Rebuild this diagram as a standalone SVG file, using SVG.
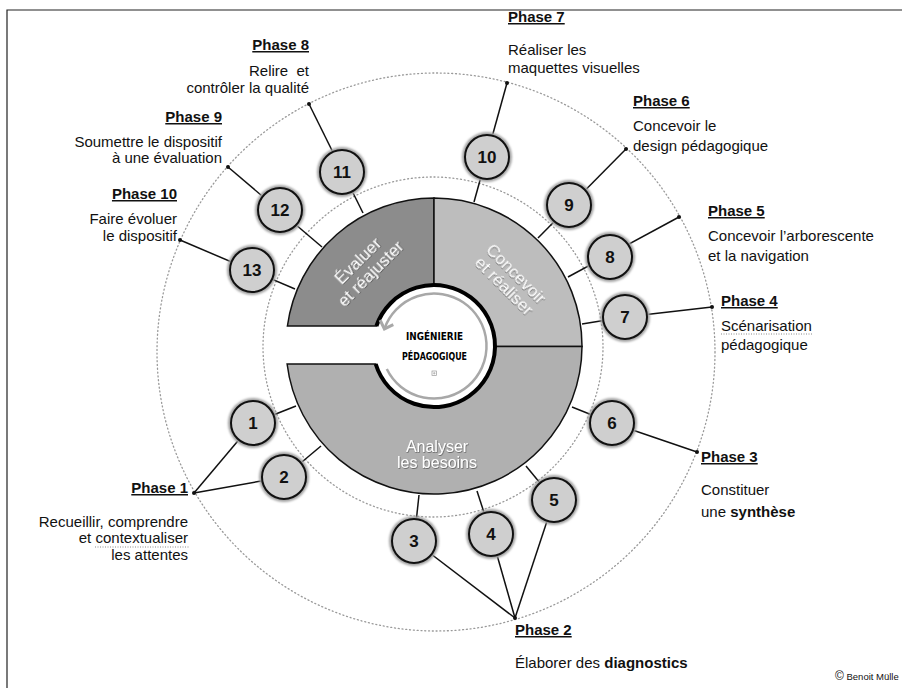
<svg xmlns="http://www.w3.org/2000/svg" width="902" height="688" viewBox="0 0 902 688">
<defs>
<style>
text{font-family:"Liberation Sans",Arial,sans-serif;fill:#111;}
.t{font-size:15px;}
.h{font-size:15px;font-weight:bold;text-decoration:underline;}
.e{text-anchor:end;}
.num{font-size:17px;font-weight:bold;text-anchor:middle;fill:#111;}
.halo{fill:#a3a3a3;filter:url(#blur);}
.disc{fill:#cfcfcf;stroke:#111;stroke-width:2;}
.seg{stroke:#111;stroke-width:1.5;}
.lbl{fill:#fff;font-size:17px;text-anchor:middle;filter:url(#sh);}
.dot{fill:#111;}
.ln{stroke:#111;stroke-width:1.5;fill:none;}
.dotted{fill:none;stroke:#999;stroke-width:1.3;stroke-dasharray:1 2.8;stroke-linecap:round;}
.spell{stroke:#8a8a8a;stroke-width:1.2;stroke-dasharray:1 1.5;}
.core{font-family:"DejaVu Sans Condensed","DejaVu Sans",sans-serif;font-weight:bold;font-size:11px;text-anchor:middle;fill:#000;}
</style>
<filter id="blur" x="-20%" y="-20%" width="140%" height="140%"><feGaussianBlur stdDeviation="1"/></filter>
<filter id="sh" x="-10%" y="-30%" width="120%" height="160%"><feDropShadow dx="0.6" dy="0.8" stdDeviation="0.7" flood-color="#444" flood-opacity="0.8"/></filter>
<marker id="arr" markerUnits="userSpaceOnUse" markerWidth="20" markerHeight="20" refX="10" refY="10" orient="auto">
<path d="M3,3 L10,10 L3,17" fill="none" stroke="#a8a8a8" stroke-width="3"/>
</marker>
</defs>
<rect width="902" height="688" fill="#fff"/>
<path d="M7,688 V10 H902" fill="none" stroke="#222" stroke-width="1.2"/>

<g id="guides">
<circle class="dotted" cx="433" cy="347" r="170"/>
<circle class="dotted" cx="436" cy="352" r="279"/>
</g>

<g id="connectors">
<line class="ln" x1="309" y1="104" x2="363" y2="213"/>
<line class="ln" x1="228" y1="167" x2="322" y2="247"/>
<line class="ln" x1="180" y1="240" x2="295" y2="289"/>
<line class="ln" x1="507" y1="83" x2="474" y2="202"/>
<line class="ln" x1="626" y1="149" x2="538" y2="238"/>
<line class="ln" x1="679" y1="217" x2="568" y2="277"/>
<line class="ln" x1="712" y1="307" x2="625" y2="317"/>
<line class="ln" x1="625" y1="317" x2="582" y2="324"/>
<line class="ln" x1="253" y1="423" x2="296" y2="406"/>
<line class="ln" x1="284" y1="477" x2="321" y2="446"/>
<line class="ln" x1="414" y1="541" x2="419" y2="495"/>
<line class="ln" x1="491" y1="534" x2="477" y2="491"/>
<line class="ln" x1="554" y1="500" x2="526" y2="466"/>
<line class="ln" x1="697" y1="452" x2="612" y2="423"/>
<line class="ln" x1="612" y1="423" x2="572" y2="407"/>
<line class="ln" x1="194" y1="493" x2="253" y2="423"/>
<line class="ln" x1="194" y1="493" x2="284" y2="477"/>
<line class="ln" x1="515" y1="618" x2="414" y2="541"/>
<line class="ln" x1="515" y1="618" x2="491" y2="534"/>
<line class="ln" x1="515" y1="618" x2="554" y2="500"/>
<circle class="dot" cx="309" cy="104" r="2"/>
<circle class="dot" cx="228" cy="167" r="2"/>
<circle class="dot" cx="180" cy="240" r="2"/>
<circle class="dot" cx="507" cy="83" r="2"/>
<circle class="dot" cx="626" cy="149" r="2"/>
<circle class="dot" cx="679" cy="217" r="2"/>
<circle class="dot" cx="712" cy="307" r="2"/>
<circle class="dot" cx="697" cy="452" r="2"/>
<circle class="dot" cx="515" cy="618" r="2"/>
<circle class="dot" cx="194" cy="493" r="2"/>
</g>

<g id="hub">
<path id="seg-evaluer" class="seg" fill="#8c8c8c" d="M287.4,326 A148,148 0 0,1 434,198 L434,285 A61,61 0 0,0 376.4,326 Z"/>
<path id="seg-concevoir" class="seg" fill="#bdbdbd" d="M434,198 A148,148 0 0,1 582,346.5 L495,346.5 A61,61 0 0,0 434,285 Z"/>
<path id="seg-analyser" class="seg" fill="#b0b0b0" d="M582,346.5 A148,148 0 0,1 287.1,364 L375.7,364 A61,61 0 0,0 495,346.5 Z"/>
<path d="M376.4,326 A61,61 0 1,1 375.7,364" fill="none" stroke="#000" stroke-width="4"/>
<path d="M386.8,369 A52.5,52.5 0 1,0 384.4,328.9" fill="none" stroke="#a8a8a8" stroke-width="2.5" marker-end="url(#arr)"/>
<g transform="translate(364,267) rotate(-45)">
<text class="lbl" x="0" y="-3">Évaluer</text>
<text class="lbl" x="0" y="15">et réajuster</text>
</g>
<g transform="translate(510,280) rotate(45)">
<text class="lbl" x="0" y="-3">Concevoir</text>
<text class="lbl" x="0" y="14">et réaliser</text>
</g>
<text class="lbl" x="437" y="452" style="font-size:16px">Analyser</text>
<text class="lbl" x="437" y="468" style="font-size:16px">les besoins</text>
<text class="core" x="434.5" y="340" textLength="57" lengthAdjust="spacingAndGlyphs">INGÉNIERIE</text>
<text class="core" x="434.5" y="360" textLength="65" lengthAdjust="spacingAndGlyphs">PÉDAGOGIQUE</text>
<rect x="432" y="371" width="4.5" height="4.5" fill="none" stroke="#999" stroke-width="0.7"/>
<path d="M434.25,372 V374.5 M433,373.25 H435.5" stroke="#999" stroke-width="0.6"/>
</g>

<g id="n1"><circle class="halo" cx="253" cy="423" r="25"/><circle class="disc" cx="253" cy="423" r="22"/><text class="num" x="253" y="429">1</text></g>
<g id="n2"><circle class="halo" cx="284" cy="477" r="25"/><circle class="disc" cx="284" cy="477" r="22"/><text class="num" x="284" y="483">2</text></g>
<g id="n3"><circle class="halo" cx="414" cy="541" r="25"/><circle class="disc" cx="414" cy="541" r="22"/><text class="num" x="414" y="547">3</text></g>
<g id="n4"><circle class="halo" cx="491" cy="534" r="25"/><circle class="disc" cx="491" cy="534" r="22"/><text class="num" x="491" y="540">4</text></g>
<g id="n5"><circle class="halo" cx="554" cy="500" r="25"/><circle class="disc" cx="554" cy="500" r="22"/><text class="num" x="554" y="506">5</text></g>
<g id="n6"><circle class="halo" cx="612" cy="423" r="25"/><circle class="disc" cx="612" cy="423" r="22"/><text class="num" x="612" y="429">6</text></g>
<g id="n7"><circle class="halo" cx="625" cy="317" r="25"/><circle class="disc" cx="625" cy="317" r="22"/><text class="num" x="625" y="323">7</text></g>
<g id="n8"><circle class="halo" cx="610" cy="257" r="25"/><circle class="disc" cx="610" cy="257" r="22"/><text class="num" x="610" y="263">8</text></g>
<g id="n9"><circle class="halo" cx="569" cy="205" r="25"/><circle class="disc" cx="569" cy="205" r="22"/><text class="num" x="569" y="211">9</text></g>
<g id="n10"><circle class="halo" cx="487" cy="157" r="25"/><circle class="disc" cx="487" cy="157" r="22"/><text class="num" x="487" y="163">10</text></g>
<g id="n11"><circle class="halo" cx="342" cy="172" r="25"/><circle class="disc" cx="342" cy="172" r="22"/><text class="num" x="342" y="178">11</text></g>
<g id="n12"><circle class="halo" cx="280" cy="210" r="25"/><circle class="disc" cx="280" cy="210" r="22"/><text class="num" x="280" y="216">12</text></g>
<g id="n13"><circle class="halo" cx="252" cy="270" r="25"/><circle class="disc" cx="252" cy="270" r="22"/><text class="num" x="252" y="276">13</text></g>

<g id="phase8"><text class="h e" x="309" y="50">Phase 8</text><text class="t e" x="309" y="76" xml:space="preserve">Relire  et</text><text class="t e" x="309" y="93">contrôler la qualité</text></g>
<g id="phase9"><text class="h e" x="222" y="122">Phase 9</text><text class="t e" x="222" y="147">Soumettre le dispositif</text><text class="t e" x="222" y="163">à une évaluation</text></g>
<g id="phase10"><text class="h e" x="177" y="199">Phase 10</text><text class="t e" x="177" y="224">Faire évoluer</text><text class="t e" x="177" y="241">le dispositif</text></g>
<g id="phase1"><text class="h e" x="188" y="493">Phase 1</text><text class="t e" x="188" y="527">Recueillir, comprendre</text><text class="t e" x="188" y="543">et contextualiser</text><text class="t e" x="188" y="560">les attentes</text><line class="spell" x1="95" y1="547" x2="189" y2="547"/></g>
<g id="phase7"><text class="h" x="508" y="22">Phase 7</text><text class="t" x="508" y="55">Réaliser les</text><text class="t" x="508" y="73">maquettes visuelles</text></g>
<g id="phase6"><text class="h" x="633" y="106">Phase 6</text><text class="t" x="633" y="131">Concevoir le</text><text class="t" x="633" y="151">design pédagogique</text></g>
<g id="phase5"><text class="h" x="708" y="216">Phase 5</text><text class="t" x="708" y="241">Concevoir l’arborescente</text><text class="t" x="708" y="261">et la navigation</text></g>
<g id="phase4"><text class="h" x="721" y="306">Phase 4</text><text class="t" x="721" y="331">Scénarisation</text><text class="t" x="721" y="350">pédagogique</text><line class="spell" x1="721" y1="334" x2="812" y2="334"/></g>
<g id="phase3"><text class="h" x="701" y="462">Phase 3</text><text class="t" x="701" y="495">Constituer</text><text class="t" x="701" y="517">une <tspan font-weight="bold">synthèse</tspan></text></g>
<g id="phase2"><text class="h" x="515" y="635">Phase 2</text><text class="t" x="515" y="668">Élaborer des <tspan font-weight="bold">diagnostics</tspan></text></g>
<text x="835" y="680" style="font-size:9.5px"><tspan style="font-size:12px">©</tspan> Benoit Mülle</text>
</svg>
